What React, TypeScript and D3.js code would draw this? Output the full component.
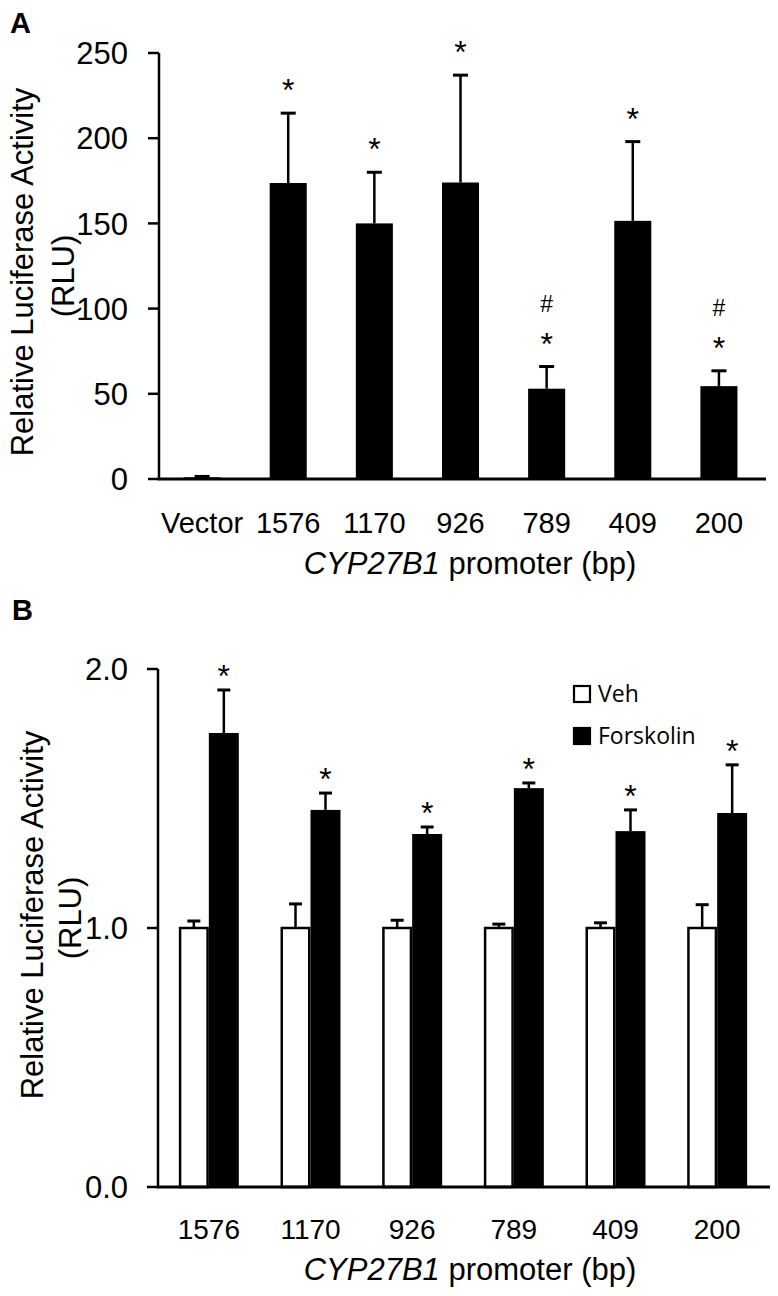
import React from "react";
import * as d3 from "d3";

// ---------- Panel A data ----------
const catsA = ["Vector", "1576", "1170", "926", "789", "409", "200"];
const meanA = [1.0, 173.7, 150.0, 174.0, 53.0, 151.5, 54.5];
const errA = [0.5, 41.0, 30.0, 63.0, 13.0, 46.5, 9.0];
const starA = [false, true, true, true, true, true, true];
const hashA = [false, false, false, false, true, false, true];
const ticksA = [0, 50, 100, 150, 200, 250];

// ---------- Panel B data ----------
const catsB = ["1576", "1170", "926", "789", "409", "200"];
const seriesB = ["Veh", "Forskolin"];
const vehMean = [1.0, 1.0, 1.0, 1.0, 1.0, 1.0];
const vehErr = [0.027, 0.093, 0.03, 0.015, 0.02, 0.09];
const forMean = [1.753, 1.456, 1.363, 1.54, 1.374, 1.444];
const forErr = [0.166, 0.065, 0.027, 0.02, 0.082, 0.186];
const starB = [true, true, true, true, true, true];
const ticksB = [0, 1, 2];

const FONT = "'Liberation Sans', Arial, Helvetica, sans-serif";
const SW = 2.5;

export default function App() {
  // Panel A scales
  const xA = d3.scaleBand<string>().domain(catsA).range([159, 762]).paddingInner(0.57).paddingOuter(0.285);
  const yA = d3.scaleLinear().domain([0, 250]).range([479, 53]);

  // Panel B scales
  const xB = d3.scaleBand<string>().domain(catsB).range([158, 768]).paddingInner(0.41).paddingOuter(0.205);
  const xBs = d3.scaleBand<string>().domain(seriesB).range([0, xB.bandwidth()]);
  const yB = d3.scaleLinear().domain([0, 2]).range([1187, 669]);

  const fmtB = d3.format(".1f");

  const errBar = (cx: number, y0: number, y1: number, cap: number, key: string) => (
    <g key={key}>
      <line x1={cx} x2={cx} y1={y0} y2={y1} stroke="#000" strokeWidth={SW} />
      <line x1={cx - cap / 2} x2={cx + cap / 2} y1={y1} y2={y1} stroke="#000" strokeWidth={SW + 0.5} />
    </g>
  );

  return (
    <svg width={778} height={1296} style={{ position: "absolute", left: 0, top: 0, background: "#fff" }} fontFamily={FONT}>
      <rect x={0} y={0} width={778} height={1296} fill="#fff" />

      {/* ================= PANEL A ================= */}
      <text x={10} y={33} fontSize={29} fontWeight="bold">A</text>

      {/* y axis label */}
      <text transform={`translate(33,272) rotate(-90)`} textAnchor="middle" fontSize={31}>Relative Luciferase Activity</text>
      <text transform={`translate(74,276) rotate(-90)`} textAnchor="middle" fontSize={31}>(RLU)</text>

      {/* bars */}
      {catsA.map((c, i) => (
        <rect key={"ba" + c} x={xA(c)!} width={xA.bandwidth()} y={yA(meanA[i])} height={yA(0) - yA(meanA[i])} fill="#000" />
      ))}
      {catsA.map((c, i) => {
        const cx = xA(c)! + xA.bandwidth() / 2;
        return errBar(cx, yA(meanA[i]), yA(meanA[i] + errA[i]), 15, "ea" + c);
      })}
      {catsA.map((c, i) => {
        const cx = xA(c)! + xA.bandwidth() / 2;
        const sc = yA(meanA[i] + errA[i]) - 30;
        return (
          <g key={"sa" + c}>
            {starA[i] && <text x={cx} y={sc + 18} textAnchor="middle" fontSize={32}>*</text>}
            {hashA[i] && <text x={cx} y={sc - 33 + 8} textAnchor="middle" fontSize={23}>#</text>}
          </g>
        );
      })}

      {/* axes */}
      <line x1={159} x2={159} y1={yA(250)} y2={yA(0)} stroke="#000" strokeWidth={SW} />
      <line x1={158} x2={766} y1={yA(0)} y2={yA(0)} stroke="#000" strokeWidth={SW + 0.5} />
      {ticksA.map((t) => (
        <g key={"ta" + t}>
          <line x1={148} x2={159} y1={yA(t)} y2={yA(t)} stroke="#000" strokeWidth={SW} />
          <text x={128} y={yA(t)} dy="0.36em" textAnchor="end" fontSize={31}>{t}</text>
        </g>
      ))}
      {catsA.map((c) => (
        <text key={"la" + c} x={xA(c)! + xA.bandwidth() / 2} y={533} textAnchor="middle" fontSize={29}>{c}</text>
      ))}
      <text x={470} y={574} textAnchor="middle" fontSize={31}>
        <tspan fontStyle="italic">CYP27B1</tspan> promoter (bp)
      </text>

      {/* ================= PANEL B ================= */}
      <text x={12} y={620} fontSize={29} fontWeight="bold">B</text>

      <text transform={`translate(43,915) rotate(-90)`} textAnchor="middle" fontSize={31}>Relative Luciferase Activity</text>
      <text transform={`translate(81,918) rotate(-90)`} textAnchor="middle" fontSize={31}>(RLU)</text>

      {catsB.map((c, i) => {
        const gx = xB(c)!;
        const vx = gx + xBs("Veh")!;
        const fx = gx + xBs("Forskolin")!;
        const bw = xBs.bandwidth();
        return (
          <g key={"gb" + c}>
            <rect x={vx + SW / 2} width={bw - SW} y={yB(vehMean[i])} height={yB(0) - yB(vehMean[i])} fill="#fff" stroke="#000" strokeWidth={SW} />
            <rect x={fx} width={bw} y={yB(forMean[i])} height={yB(0) - yB(forMean[i])} fill="#000" />
            {errBar(vx + bw / 2, yB(vehMean[i]), yB(vehMean[i] + vehErr[i]), 13, "evb" + c)}
            {errBar(fx + bw / 2, yB(forMean[i]), yB(forMean[i] + forErr[i]), 13, "efb" + c)}
            {starB[i] && (
              <text x={fx + bw / 2} y={yB(forMean[i] + forErr[i]) - 21 + 18} textAnchor="middle" fontSize={32}>*</text>
            )}
          </g>
        );
      })}

      <line x1={158} x2={158} y1={yB(2)} y2={yB(0)} stroke="#000" strokeWidth={SW} />
      <line x1={157} x2={770} y1={yB(0)} y2={yB(0)} stroke="#000" strokeWidth={SW + 0.5} />
      {ticksB.map((t) => (
        <g key={"tb" + t}>
          <line x1={147} x2={158} y1={yB(t)} y2={yB(t)} stroke="#000" strokeWidth={SW} />
          <text x={128} y={yB(t)} dy="0.36em" textAnchor="end" fontSize={31}>{fmtB(t)}</text>
        </g>
      ))}
      {catsB.map((c) => (
        <text key={"lb" + c} x={xB(c)! + xB.bandwidth() / 2} y={1239} textAnchor="middle" fontSize={28}>{c}</text>
      ))}
      <text x={470} y={1280} textAnchor="middle" fontSize={31}>
        <tspan fontStyle="italic">CYP27B1</tspan> promoter (bp)
      </text>

      {/* legend */}
      {seriesB.map((s, i) => (
        <g key={"lg" + s} transform={`translate(574,${686 + i * 42})`}>
          <rect x={0} y={0} width={16} height={16} fill={i === 0 ? "#fff" : "#000"} stroke="#000" strokeWidth={2.2} />
          <text x={24} y={16} fontSize={23} fontFamily="'Open Sans', 'Noto Sans', sans-serif">{s}</text>
        </g>
      ))}
    </svg>
  );
}
